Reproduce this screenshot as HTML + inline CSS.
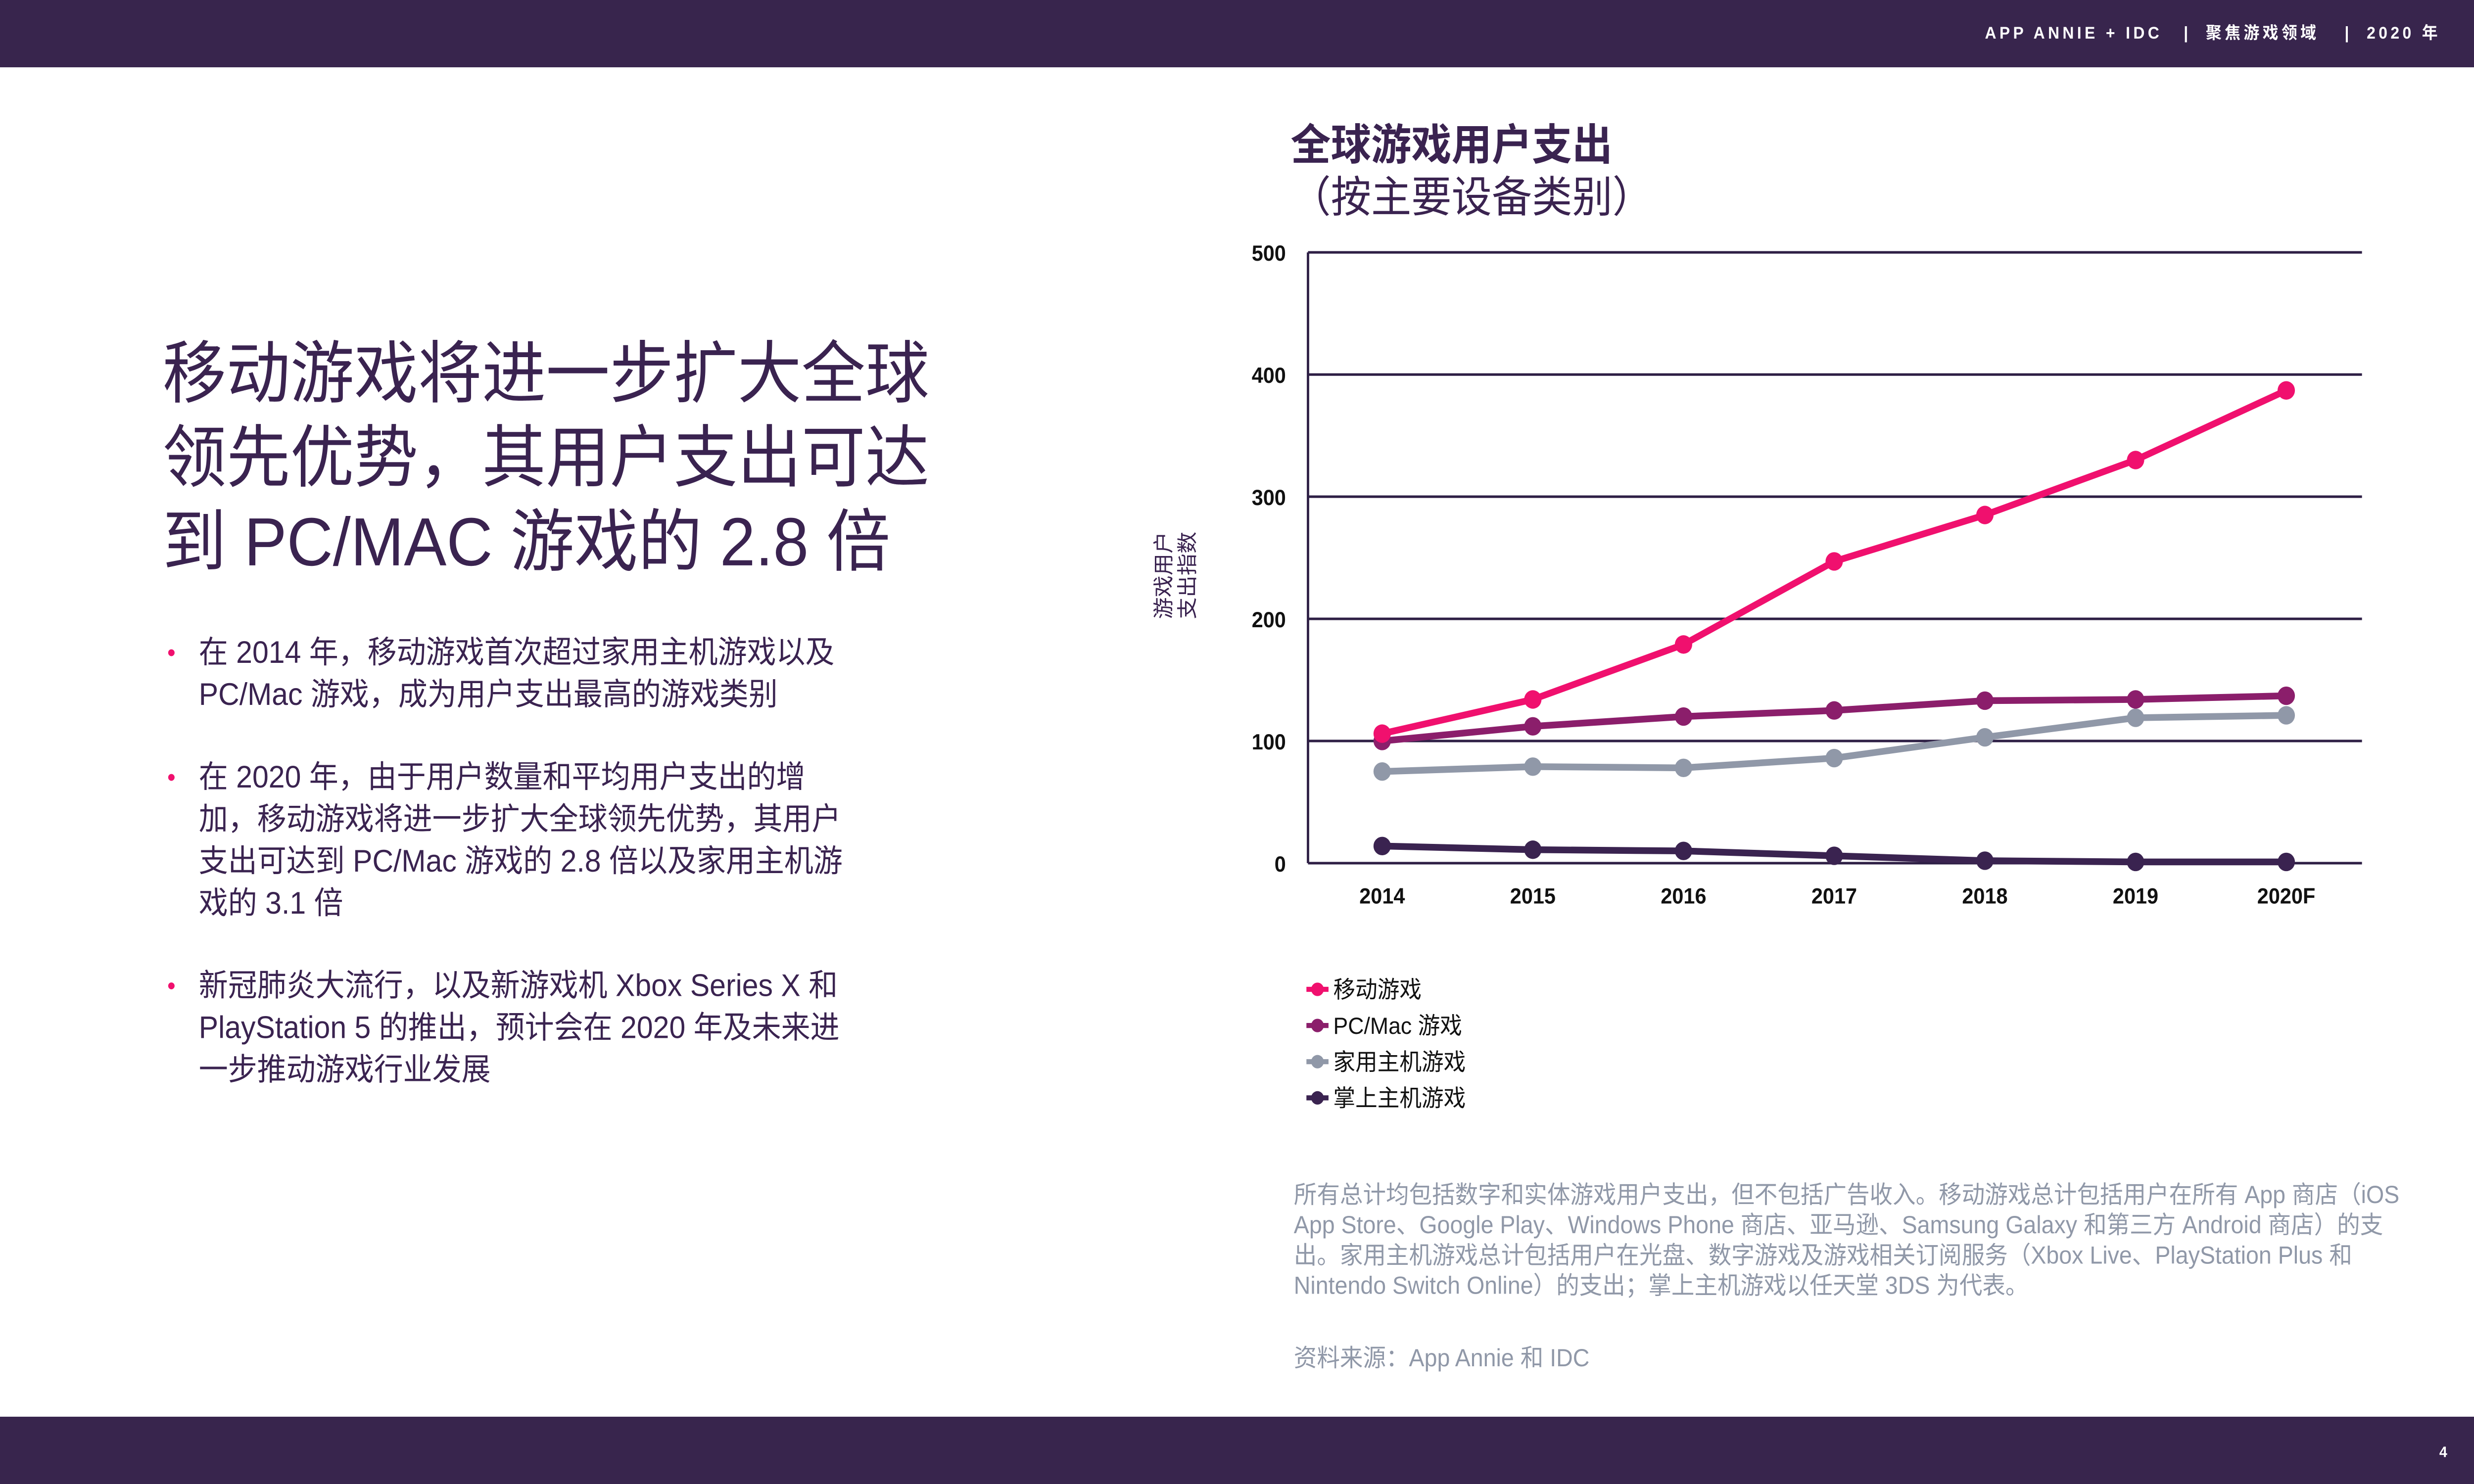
<!DOCTYPE html>
<html><head><meta charset="utf-8">
<style>
html,body{margin:0;padding:0;width:100%;height:100%;overflow:hidden;background:#fff}
svg{display:block;width:100vw;height:100vh}
text{font-family:"Liberation Sans","Noto Sans CJK SC",sans-serif}
</style></head><body>
<svg id="chart" viewBox="0 0 1568 882" preserveAspectRatio="none">
<rect x="0" y="0" width="1568" height="40" fill="#38254d"/>
<g fill="#fff" font-size="10" font-weight="bold" letter-spacing="2">
<text x="1258" y="23">APP ANNIE + IDC</text>
<text x="1384" y="23">|</text>
<text x="1398" y="23">聚焦游戏领域</text>
<text x="1486" y="23">|</text>
<text x="1500" y="23">2020 年</text>
</g>
<rect x="0" y="842" width="1568" height="40" fill="#38254d"/>
<text x="1546" y="866" fill="#fff" font-size="9" font-weight="bold">4</text>
<text fill="#3a2350" font-size="40.5">
<tspan x="103" y="236">移动游戏将进一步扩大全球</tspan>
<tspan x="103" y="286">领先优势，其用户支出可达</tspan>
<tspan x="103" y="336">到 PC/MAC 游戏的 2.8 倍</tspan>
</text>
<g fill="#3a2350" font-size="18.5">
<text x="106" y="393" fill="#f0106e" font-size="15">•</text>
<text><tspan x="126" y="394">在 2014 年，移动游戏首次超过家用主机游戏以及</tspan><tspan x="126" y="419">PC/Mac 游戏，成为用户支出最高的游戏类别</tspan></text>
<text x="106" y="467" fill="#f0106e" font-size="15">•</text>
<text><tspan x="126" y="468">在 2020 年，由于用户数量和平均用户支出的增</tspan><tspan x="126" y="493">加，移动游戏将进一步扩大全球领先优势，其用户</tspan><tspan x="126" y="518">支出可达到 PC/Mac 游戏的 2.8 倍以及家用主机游</tspan><tspan x="126" y="543">戏的 3.1 倍</tspan></text>
<text x="106" y="591" fill="#f0106e" font-size="15">•</text>
<text><tspan x="126" y="592">新冠肺炎大流行，以及新游戏机 Xbox Series X 和</tspan><tspan x="126" y="617">PlayStation 5 的推出，预计会在 2020 年及未来进</tspan><tspan x="126" y="642">一步推动游戏行业发展</tspan></text>
</g>
<text x="818" y="95" fill="#3a2350" font-size="25.5" font-weight="bold">全球游戏用户支出</text>
<text x="818" y="126" fill="#3a2350" font-size="25.5">（按主要设备类别）</text>
<text fill="#9098a8" font-size="14.6">
<tspan x="820" y="715">所有总计均包括数字和实体游戏用户支出，但不包括广告收入。移动游戏总计包括用户在所有 App 商店（iOS</tspan>
<tspan x="820" y="733">App Store、Google Play、Windows Phone 商店、亚马逊、Samsung Galaxy 和第三方 Android 商店）的支</tspan>
<tspan x="820" y="751">出。家用主机游戏总计包括用户在光盘、数字游戏及游戏相关订阅服务（Xbox Live、PlayStation Plus 和</tspan>
<tspan x="820" y="769">Nintendo Switch Online）的支出；掌上主机游戏以任天堂 3DS 为代表。</tspan>
</text>
<text x="820" y="812" fill="#9098a8" font-size="14.6">资料来源：App Annie 和 IDC</text>
<g id="plot"></g>
</svg>
<script>
const categories=["2014","2015","2016","2017","2018","2019","2020F"];
const mobile=[106,134,179,247,285,330,387];
const pcmac=[100,112,120,125,133,134,137];
const consoleG=[75,79,78,86,103,119,121];
const handheld=[14,11,10,6,2,1,1];
const yTicks=[0,100,200,300,400,500];
const seriesNames=["移动游戏","PC/Mac 游戏","家用主机游戏","掌上主机游戏"];
const NS="http://www.w3.org/2000/svg";
const g=document.getElementById('plot');
const x0=829,x1=1497,yTop=150,yBot=513;
function y(v){return yBot-(v/500)*(yBot-yTop);}
function x(i){return 876+i*(1449-876)/(categories.length-1);}
function mk(t,a){const e=document.createElementNS(NS,t);for(const k in a)e.setAttribute(k,a[k]);g.appendChild(e);return e;}
yTicks.forEach(v=>{
  const l=mk('line',{x1:x0,x2:x1,y1:y(v),y2:y(v),stroke:'#2e1f45','stroke-width':1.5});
  
  
  const t=mk('text',{x:815,y:y(v)+5,'text-anchor':'end','font-size':13,'font-weight':'bold',fill:'#111'});
  t.textContent=v;
  
  
});
const ax=mk('line',{x1:x0,x2:x0,y1:yTop,y2:yBot,stroke:'#2e1f45','stroke-width':1.5});


categories.forEach((c,i)=>{
  const t=mk('text',{x:x(i),y:537,'text-anchor':'middle','font-size':13,'font-weight':'bold',fill:'#111'});
  t.textContent=c;
  
  
});
const yt=mk('text',{transform:'translate(744,342) rotate(-90)','text-anchor':'middle','font-size':13,fill:'#3a2350'});


const ts1=document.createElementNS(NS,'tspan');ts1.setAttribute('x',0);ts1.setAttribute('dy',-2);ts1.textContent='游戏用户';yt.appendChild(ts1);
const ts2=document.createElementNS(NS,'tspan');ts2.setAttribute('x',0);ts2.setAttribute('dy',15);ts2.textContent='支出指数';yt.appendChild(ts2);
const all=[[mobile,'#f0106e','mobile'],[pcmac,'#8b1e6b','pcmac'],[consoleG,'#9098a8','console'],[handheld,'#3a2350','handheld']];
[3,2,1,0].forEach(k=>{
  const [d,c,n]=all[k];
  const p=mk('polyline',{points:d.map((v,i)=>x(i)+','+y(v)).join(' '),fill:'none',stroke:c,'stroke-width':4,'stroke-linejoin':'round'});
  
  
  d.forEach((v,i)=>{
    const cc=mk('circle',{cx:x(i),cy:y(v),r:5.5,fill:c});
    
    
  });
});
all.forEach(([d,c,n],k)=>{
  const ly=588+k*21.5;
  const l=mk('line',{x1:828,x2:842,y1:ly,y2:ly,stroke:c,'stroke-width':3});
  
  
  const cc=mk('circle',{cx:835,cy:ly,r:4,fill:c});
  
  
  const t=mk('text',{x:845,y:ly+5,'font-size':14,fill:'#111'});
  t.textContent=seriesNames[k];
  
  
});
</script>
</body></html>
